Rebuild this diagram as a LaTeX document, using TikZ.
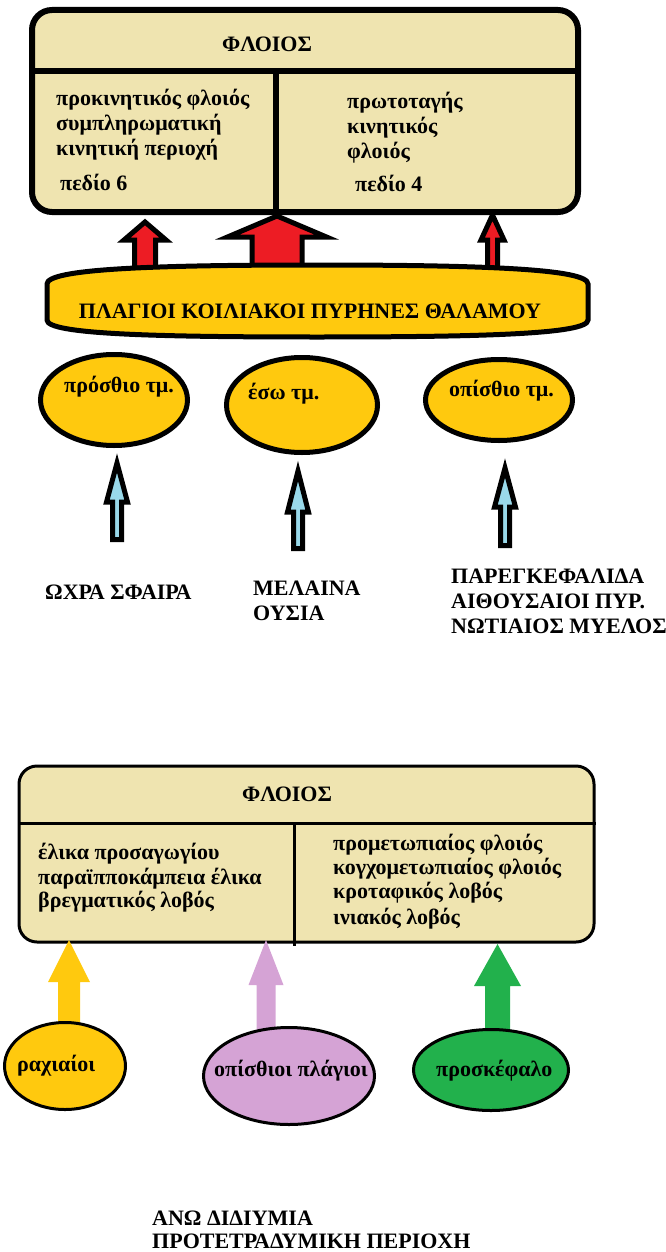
\documentclass[tikz,border=0pt]{standalone}
\usepackage{fontspec}
\setmainfont{Liberation Serif}
\usetikzlibrary{shapes.geometric}

\definecolor{tan}{HTML}{EFE4B0}
\definecolor{gold}{HTML}{FFC90E}
\definecolor{paintred}{HTML}{ED1C24}
\definecolor{skyblue}{HTML}{99D9EA}
\definecolor{lilac}{HTML}{D5A3D5}
\definecolor{paintgreen}{HTML}{22B14C}

% block arrow pointing up: style, centre x, tip y, head base y, bottom y, head half-width, shaft half-width
\newcommand\blockarr[7]{%
  \path[#1] (#2,#3) -- (#2+#6,#4) -- (#2+#7,#4) -- (#2+#7,#5) -- (#2-#7,#5)
    -- (#2-#7,#4) -- (#2-#6,#4) -- cycle;}

\begin{document}
\begin{tikzpicture}[x=1pt,y=-1pt,
  txt/.style={inner sep=0pt,anchor=base west,font=\fontsize{22}{25}\selectfont\bfseries},
  ctxt/.style={txt,anchor=base},
  panel/.style={draw=black,fill=tan,rounded corners=20pt},
  outlined/.style={draw=black,line join=miter,miter limit=10},
  oval/.style={ellipse,draw=black,inner sep=0pt}]
\useasboundingbox (0,0) rectangle (666,1252);

% ---------- upper scheme ----------
\draw[panel,line width=6pt] (32,10) rectangle (578,212);
\draw[line width=6pt] (32,71) -- (578,71);
\draw[line width=6pt] (276,71) -- (276,212);

\node[ctxt] (cortex1) at (267,52) {ΦΛΟΙΟΣ};
\node[txt] (pm1) at (56,106) {προκινητικός φλοιός};
\node[txt] (pm2) at (56,131) {συμπληρωματική};
\node[txt] (pm3) at (56,156) {κινητική περιοχή};
\node[txt] (pm4) at (60,190) {πεδίο 6};
\node[txt] (m1) at (347,109) {πρωτοταγής};
\node[txt] (m2) at (347,134) {κινητικός};
\node[txt] (m3) at (347,159) {φλοιός};
\node[txt] (m4) at (355,192) {πεδίο 4};

% red projections to the cortex
\blockarr{outlined,fill=paintred,line width=5pt}{145}{222}{240}{268}{21}{10.5}
\blockarr{outlined,fill=paintred,line width=5pt}{277}{216}{237}{268}{49.5}{25}
\blockarr{outlined,fill=paintred,line width=5pt}{492.5}{215}{240}{268}{11.5}{5}

% thalamic nuclei band
\draw[fill=gold,line width=5pt]
  (47,284) -- (47,320)
  .. controls (47,334) and (150,337) .. (317,337)
  .. controls (485,337) and (588,334) .. (588,320)
  -- (588,284)
  .. controls (588,269) and (485,265) .. (317,265)
  .. controls (150,265) and (47,269) .. (47,284) -- cycle;
\node[ctxt] (vl) at (310,318) {ΠΛΑΓΙΟΙ ΚΟΙΛΙΑΚΟΙ ΠΥΡΗΝΕΣ ΘΑΛΑΜΟΥ};

% subdivisions
\node[oval,fill=gold,line width=5pt,minimum width=147pt,minimum height=91pt] (ant) at (114,400) {};
\node[oval,fill=gold,line width=5pt,minimum width=151pt,minimum height=95pt] (med) at (302,405) {};
\node[oval,fill=gold,line width=5pt,minimum width=147pt,minimum height=81pt] (post) at (499,400) {};
\node[txt] (antl) at (64,392) {πρόσθιο τμ.};
\node[txt] (medl) at (248,399) {έσω τμ.};
\node[txt] (postl) at (449,396) {οπίσθιο τμ.};

% afferent inputs
\blockarr{outlined,fill=skyblue,line width=5pt}{117}{463}{502}{539.5}{10.5}{4.5}
\blockarr{outlined,fill=skyblue,line width=5pt}{298}{471}{512}{548.5}{10.5}{4.5}
\blockarr{outlined,fill=skyblue,line width=5pt}{505}{468}{507}{545.5}{10.5}{4.5}

\node[txt] (gp) at (45,599) {ΩΧΡΑ ΣΦΑΙΡΑ};
\node[txt] (sn1) at (253,595) {ΜΕΛΑΙΝΑ};
\node[txt] (sn2) at (253,620) {ΟΥΣΙΑ};
\node[txt] (cb1) at (451,583) {ΠΑΡΕΓΚΕΦΑΛΙΔΑ};
\node[txt] (cb2) at (451,608) {ΑΙΘΟΥΣΑΙΟΙ ΠΥΡ.};
\node[txt] (cb3) at (451,633) {ΝΩΤΙΑΙΟΣ ΜΥΕΛΟΣ};

% ---------- lower scheme ----------
\draw[panel,line width=3pt,rounded corners=18pt] (19,766) rectangle (594,942);
\draw[line width=3pt] (19,823) -- (596,823);
\draw[line width=3pt] (294,823) -- (294,946);

\node[ctxt] (cortex2) at (287,801) {ΦΛΟΙΟΣ};
\node[txt] (p1) at (38,859) {έλικα προσαγωγίου};
\node[txt] (p2) at (38,884) {παραϊπποκάμπεια έλικα};
\node[txt] (p3) at (38,907) {βρεγματικός λοβός};
\node[txt] (f1) at (333,850) {προμετωπιαίος φλοιός};
\node[txt] (f2) at (333,874) {κογχομετωπιαίος φλοιός};
\node[txt] (f3) at (333,898) {κροταφικός λοβός};
\node[txt] (f4) at (333,924) {ινιακός λοβός};

\blockarr{fill=gold}{69}{940}{982}{1030}{21}{11}
\blockarr{fill=lilac}{266}{940}{985}{1036}{17.5}{9.5}
\blockarr{fill=paintgreen}{497.5}{944}{986}{1036}{23.5}{12.5}

\node[oval,fill=gold,line width=3pt,minimum width=121pt,minimum height=87pt] (lat) at (65,1066) {};
\node[oval,fill=lilac,line width=3pt,minimum width=171pt,minimum height=97pt] (lp) at (289,1076) {};
\node[oval,fill=paintgreen,line width=3pt,minimum width=155pt,minimum height=81pt] (pulv) at (491,1070) {};
\node[txt] (latl) at (17,1071) {ραχιαίοι};
\node[txt] (lpl) at (214,1076) {οπίσθιοι πλάγιοι};
\node[txt] (pulvl) at (436,1076) {προσκέφαλο};

\node[txt] (sc1) at (152,1225) {ΑΝΩ ΔΙΔΙΥΜΙΑ};
\node[txt] (sc2) at (152,1248) {ΠΡΟΤΕΤΡΑΔΥΜΙΚΗ ΠΕΡΙΟΧΗ};
\end{tikzpicture}
\end{document}
